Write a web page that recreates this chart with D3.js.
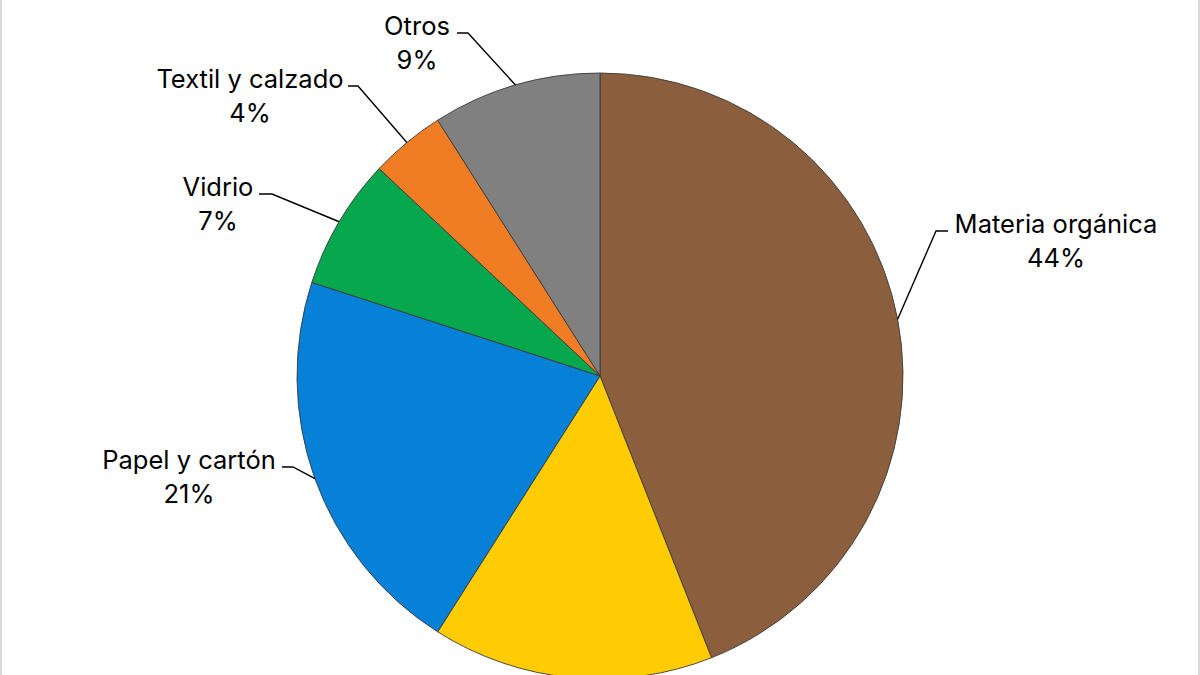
<!DOCTYPE html>
<html>
<head>
<meta charset="utf-8">
<script src="https://cdn.jsdelivr.net/npm/d3@7"></script>
<style>
  html, body { margin: 0; padding: 0; background: #ffffff; }
  svg { display: block; }
</style>
</head>
<body>
<svg id="chart" width="1200" height="675"></svg>
<script>
// ---- data ----
const categories = ["Materia orgánica", "Plásticos", "Papel y cartón", "Vidrio", "Textil y calzado", "Otros"];
const values = [44, 15, 21, 7, 4, 9];
const colors = ["#8B5F3D", "#FFCC04", "#0780D7", "#07A84D", "#F07C24", "#808080"];
const showLabel = [true, false, true, true, true, true];

// ---- layout (not data) ----
const W = 1200, H = 675;
const cx = 600, cy = 376, R = 303;
// label anchor: text centre x, first baseline y, leader start x, elbow x
const labelLayout = {
  "Materia orgánica": { tx: 1056, ty: 233, lx: 948, ex: 936 },
  "Papel y cartón":   { tx: 189,  ty: 469, lx: 282, ex: 293 },
  "Vidrio":           { tx: 218,  ty: 196, lx: 259, ex: 272 },
  "Textil y calzado": { tx: 250,  ty: 88,  lx: 348, ex: 358 },
  "Otros":            { tx: 417,  ty: 35,  lx: 457, ex: 468 }
};

const svg = d3.select("#chart");

// frame edges
svg.append("rect").attr("x", 0).attr("y", 0).attr("width", W).attr("height", H).attr("fill", "#ffffff");
svg.append("rect").attr("x", 0).attr("y", 0).attr("width", 2).attr("height", H).attr("fill", "#d9d9d9");
svg.append("rect").attr("x", W - 2).attr("y", 0).attr("width", 2).attr("height", H).attr("fill", "#d9d9d9");

const data = categories.map((c, i) => ({ name: c, value: values[i], color: colors[i], show: showLabel[i] }));

const pie = d3.pie().value(d => d.value).sort(null);
const arcs = pie(data);
const arc = d3.arc().innerRadius(0).outerRadius(R);

const g = svg.append("g").attr("transform", `translate(${cx},${cy})`);
g.selectAll("path.slice")
  .data(arcs)
  .join("path")
  .attr("class", "slice")
  .attr("d", arc)
  .attr("fill", d => d.data.color)
  .attr("stroke", "#3a3a3a")
  .attr("stroke-width", 0.9);

// labels + leader lines
const total = d3.sum(values);
const labG = svg.append("g");
arcs.filter(a => a.data.show).forEach(a => {
  const L = labelLayout[a.data.name];
  const mid = (a.startAngle + a.endAngle) / 2;
  const px = cx + R * Math.sin(mid);
  const py = cy - R * Math.cos(mid);
  const ly = L.ty - 2;
  labG.append("polyline")
    .attr("points", `${L.lx},${ly} ${L.ex},${ly} ${px},${py}`)
    .attr("fill", "none")
    .attr("stroke", "#000")
    .attr("stroke-width", 1.4);
  const t = labG.append("text")
    .attr("x", L.tx)
    .attr("y", L.ty)
    .attr("text-anchor", "middle")
    .attr("font-family", "Inter, 'Noto Sans', sans-serif")
    .attr("font-size", 25.5)
    .attr("fill", "#000");
  t.append("tspan").attr("x", L.tx).attr("y", L.ty).text(a.data.name);
  t.append("tspan").attr("x", L.tx).attr("y", L.ty + 34).text(Math.round(a.data.value / total * 100) + "%");
});
</script>
</body>
</html>
